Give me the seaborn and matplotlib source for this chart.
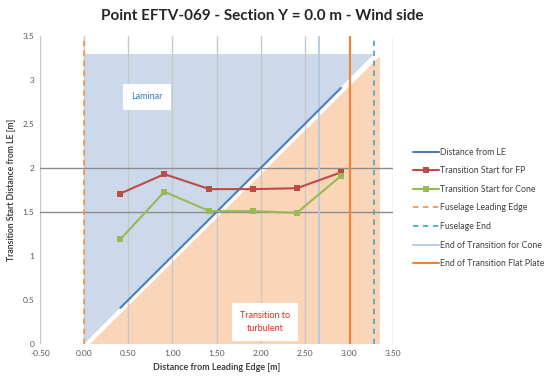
import matplotlib
matplotlib.use("Agg")
import matplotlib.pyplot as plt
import seaborn as sns
import pandas as pd
import numpy as np

# ---- data ----
x_pos = [0.41, 0.91, 1.42, 1.91, 2.41, 2.91]
fp_start = [1.71, 1.93, 1.76, 1.76, 1.77, 1.95]
cone_start = [1.19, 1.73, 1.51, 1.51, 1.49, 1.91]
dist_le = [0.41, 0.91, 1.42, 1.91, 2.41, 2.91]
fuselage_le = 0.0
fuselage_end = 3.28
end_trans_cone = 2.66
end_trans_fp = 3.01
ref_levels = [1.5, 2.0]
laminar_top = 3.3
turb_right = 3.35
x_ticks = [-0.5, 0.0, 0.5, 1.0, 1.5, 2.0, 2.5, 3.0, 3.5]
y_ticks = [0, 0.5, 1, 1.5, 2, 2.5, 3, 3.5]
y_tick_labels = ["0", "0.5", "1", "1.5", "2", "2.5", "3", "3.5"]

df = pd.DataFrame({"x": x_pos, "fp": fp_start, "cone": cone_start, "le": dist_le})

sns.set_theme(style="white")
plt.rcParams['font.family'] = ['Lato', 'DejaVu Sans']

fig = plt.figure(figsize=(5.54, 3.8), dpi=100)
ax = fig.add_axes([40/554, 1-344/380, 353/554, 308/380])

# regions
gap = 0.07
ax.fill([fuselage_le, fuselage_le, laminar_top - 0.02, fuselage_le],
        [0.0, laminar_top, laminar_top, 0.0], color="#CCD9EA", zorder=0.2, lw=0)
ax.fill([fuselage_le + gap, turb_right, turb_right, laminar_top - 0.02 + gap],
        [0.0, 0.0, laminar_top - 0.03, laminar_top - 0.03],
        color="#FAD5B8", zorder=0.2, lw=0)

# reference lines
for lv in ref_levels:
    ax.axhline(lv, color="#8C8C8C", lw=1.0, zorder=1.2)

# series
sns.lineplot(data=df, x="x", y="le", ax=ax, color="#4A7EBB", lw=1.5,
             label="Distance from LE", zorder=3)
sns.lineplot(data=df, x="x", y="fp", ax=ax, color="#BE4B48", lw=1.5,
             marker="s", markersize=4.5, markeredgewidth=0,
             label="Transition Start for FP", zorder=4)
sns.lineplot(data=df, x="x", y="cone", ax=ax, color="#98B954", lw=1.5,
             marker="s", markersize=4.5, markeredgewidth=0,
             label="Transition Start for Cone", zorder=4)
ax.axvline(fuselage_le, color="#F79646", lw=1.3, ls=(0, (3, 2.5)),
           label="Fuselage Leading Edge", zorder=3)
ax.axvline(fuselage_end, color="#4BACC6", lw=1.3, ls=(0, (3, 2.5)),
           label="Fuselage End", zorder=3)
ax.axvline(end_trans_cone, color="#B3C8E3", lw=1.3,
           label="End of Transition for Cone", zorder=2.5)
ax.axvline(end_trans_fp, color="#F28430", lw=1.5,
           label="End of Transition Flat Plate", zorder=3)

# annotations
ax.text(0.71, 2.81, "Laminar", color="#3A7CC4", fontsize=6.5, ha="center", va="center",
        bbox=dict(boxstyle="square,pad=0.95", fc="white", ec="none"), zorder=5)
ax.text(2.05, 0.25, "Transition to\nturbulent", color="#FF2020", fontsize=6.5,
        ha="center", va="center", linespacing=1.5,
        bbox=dict(boxstyle="square,pad=0.9", fc="white", ec="none"), zorder=5)

ax.set_xlim(-0.5, 3.5)
ax.set_ylim(0, 3.5)
ax.set_xticks(x_ticks)
ax.set_xticklabels([f"{v:.2f}" for v in x_ticks])
ax.set_yticks(y_ticks)
ax.set_yticklabels(y_tick_labels)
ax.tick_params(axis="both", labelsize=6, colors="#595959", length=0, pad=4)
ax.xaxis.grid(True, color="#C8C8C8", lw=1.0)
ax.yaxis.grid(False)
ax.set_axisbelow(True)
for s in ax.spines.values():
    s.set_visible(False)

ax.set_xlabel("Distance from Leading Edge [m]", fontsize=6.5, fontweight="bold",
              color="#404040", labelpad=5)
ax.set_ylabel("Transition Start Distance from LE [m]", fontsize=6.2, fontweight="bold",
              color="#404040", labelpad=5)

fig.text(262/554, 1-16/380, "Point EFTV-069 - Section Y = 0.0 m - Wind side",
         ha="center", va="center", fontsize=11, fontweight="bold", color="#262626")

handles, labels = ax.get_legend_handles_labels()
ax.get_legend().remove()
fig.legend(handles, labels, loc="center left", bbox_to_anchor=(408/554, 1-208/380),
           frameon=False, fontsize=6.3, labelspacing=1.1, handlelength=2.9,
           handletextpad=0.2, labelcolor="#404040", borderaxespad=0.2)

fig.savefig("out.png", dpi=100)
